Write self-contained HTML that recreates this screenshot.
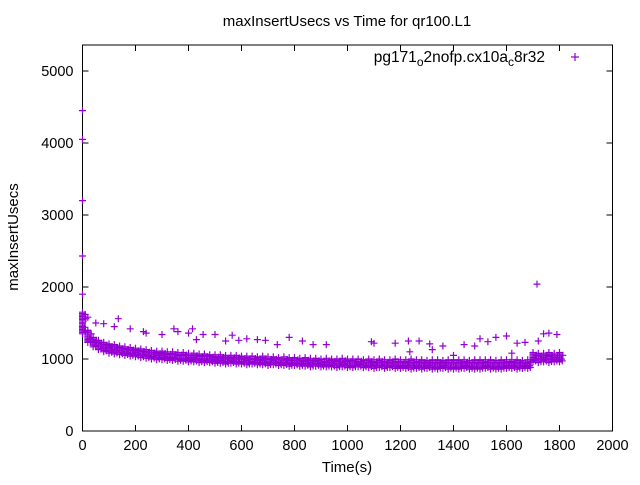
<!DOCTYPE html>
<html><head><meta charset="utf-8"><style>
html,body{margin:0;padding:0;background:#fff;}
svg text{font-family:"Liberation Sans",sans-serif;fill:#000;}
</style></head><body>
<svg id="chart" width="640" height="480" xmlns="http://www.w3.org/2000/svg">
<rect width="640" height="480" fill="#fff"/>
<text x="347" y="26" font-size="15" text-anchor="middle">maxInsertUsecs vs Time for qr100.L1</text>
<text transform="translate(18,237) rotate(-90)" font-size="15" text-anchor="middle">maxInsertUsecs</text>
<text x="347" y="472" font-size="15" text-anchor="middle">Time(s)</text>
<g id="axes"></g>
<g id="marks"></g>
<g>
<text x="545" y="62" font-size="15.5" text-anchor="end">pg171<tspan font-size="12" dy="4">o</tspan><tspan dy="-4">2nofp.cx10a</tspan><tspan font-size="12" dy="4">c</tspan><tspan dy="-4">8r32</tspan></text>
<path d="M571 57h8M575 53v8" stroke="#9400d3" stroke-width="1.2"/>
</g>
</svg>
<script>
const xTicks=[0,200,400,600,800,1000,1200,1400,1600,1800,2000];
const yTicks=[0,1000,2000,3000,4000,5000];
const bandTimes=[];for(let t=0;t<=1800;t+=20)bandTimes.push(t);
const bandHi=[1650,1400,1300,1260,1230,1210,1200,1180,1170,1160,1150,
1140,1130,1120,1110,1110,1100,1100,1090,1090,1080,
1080,1070,1070,1060,1060,1060,1050,1050,1050,1040,
1040,1040,1030,1040,1030,1030,1020,1030,1020,1020,
1010,1020,1010,1010,1000,1010,1000,1000,1010,1000,
1000,1000,990,1000,990,1000,990,990,1000,990,
990,1000,990,990,980,990,990,980,990,990,
990,990,980,990,990,990,990,980,990,990,
990,990,980,990,1090,1080,1080,1090,1080,1090];
const bandLo=[1350,1230,1170,1130,1100,1080,1070,1060,1050,1040,1030,
1020,1010,1000,990,990,980,980,970,970,960,
960,950,950,950,940,940,930,940,930,930,
920,930,920,920,910,920,910,910,900,910,
900,900,890,900,890,890,890,880,890,880,
880,890,880,880,870,880,870,880,870,870,
870,860,870,860,870,860,860,870,860,860,
860,870,860,860,860,870,860,860,860,870,
870,860,870,870,960,950,960,950,960,960];
const outT=[0,0,0,0,0,1715,10,20,50,80,120,135,180,230,240,300,345,360,400,415,430,455,500,540,565,590,620,660,690,735,780,830,870,920,1090,1100,1180,1230,1270,1310,1360,1440,1480,1500,1530,1560,1600,1640,1670,1720,1740,1760,1790,1235,1320,1400,1620];
const outV=[4450,4050,3200,2430,1900,2040,1620,1580,1500,1490,1450,1560,1420,1380,1360,1340,1420,1380,1360,1420,1270,1340,1340,1250,1330,1260,1280,1270,1260,1200,1300,1250,1200,1200,1240,1220,1220,1250,1250,1210,1180,1200,1180,1280,1240,1300,1320,1220,1230,1250,1350,1360,1340,1100,1130,1050,1080];
const L=82.5,R=612.5,T=45,B=431;
const xs=v=>L+(v-0)/2000*(R-L);
const ys=v=>B-(v/5000)*(B-71);
const NS='http://www.w3.org/2000/svg';
const axes=document.getElementById('axes');
const marks=document.getElementById('marks');
function mk(tag,attrs,parent){const e=document.createElementNS(NS,tag);for(const k in attrs)e.setAttribute(k,attrs[k]);parent.appendChild(e);return e;}
const frame=mk('rect',{x:L,y:T,width:R-L,height:B-T,fill:'none',stroke:'#000','stroke-width':1},axes);


xTicks.forEach(v=>{const x=xs(v);
 const p=mk('path',{d:`M${x} ${B}v-6M${x} ${T}v6`,stroke:'#000'},axes);
 
 
 const t=mk('text',{x:x,y:B+19,'font-size':14.5,'text-anchor':'middle'},axes);t.textContent=v;
 
 });
yTicks.forEach(v=>{const y=ys(v);
 const p=mk('path',{d:`M${L} ${y}h6M${R} ${y}h-6`,stroke:'#000'},axes);
 
 
 const t=mk('text',{x:L-9,y:y+5,'font-size':14.5,'text-anchor':'end'},axes);t.textContent=v;
 
 });
let d='';
function plus(t,v){const x=xs(t),y=ys(v);d+=`M${(x-3.5).toFixed(1)} ${y.toFixed(1)}h7M${x.toFixed(1)} ${(y-3.5).toFixed(1)}v7`;}
bandTimes.forEach((t,i)=>{const lo=bandLo[i],hi=bandHi[i];
 for(let v=lo;v<hi;v+=20)plus(t,v);plus(t,hi);
 const r=hi-lo;
 plus(t+7,lo+r*0.3);plus(t+13,lo+r*0.7);plus(t+10,lo+r*0.1);});
outT.forEach((t,i)=>plus(t,outV[i]));
const path=mk('path',{d:d,stroke:'#9400d3','stroke-width':1.2,fill:'none'},marks);


</script>
</body></html>
